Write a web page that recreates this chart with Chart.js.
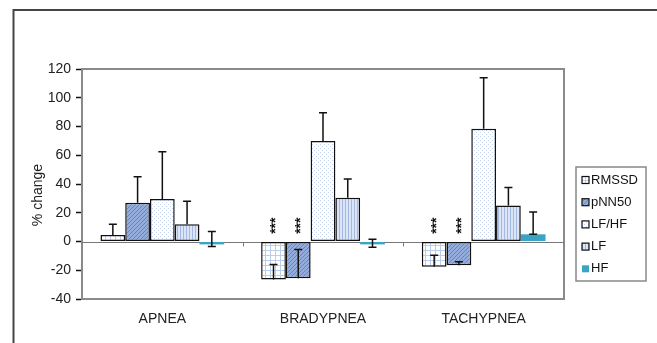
<!DOCTYPE html>
<html>
<head>
<meta charset="utf-8">
<script src="https://cdn.jsdelivr.net/npm/chart.js@4/dist/chart.umd.min.js"></script>
<style>
  html, body { margin: 0; padding: 0; background: #fff; }
  canvas { display: block; }
</style>
</head>
<body>
<canvas id="chart" width="657" height="343"></canvas>
<script>
// data
const categories = ["APNEA", "BRADYPNEA", "TACHYPNEA"];
const seriesNames = ["RMSSD", "pNN50", "LF/HF", "LF", "HF"];

const rmssd = [4.5, -26.5, -17.5];
const pnn50 = [27, -25.5, -16.5];
const lfhf = [29.5, 70, 78.5];
const lf = [12, 30.5, 25];
const hf = [-2, -2, 5];

// error bar lengths (plus side, minus side)
const rmssdErr = [7.5, 10.5, 8];
const pnn50Err = [18, 20, 2.5];
const lfhfErr = [33, 19.5, 35.5];
const lfErr = [16, 13, 12.5];
const hfErr = [9, 3.5, 15.5];
const hfErrMinus = [1.5, 2, 0];

// significance marks above zero line
const rmssdSig = ["", "***", "***"];
const pnn50Sig = ["", "***", "***"];

const yTicks = { min: -40, max: 120, step: 20 };

function makePattern(kind) {
  const c = document.createElement("canvas");
  const ctx = c.getContext("2d");
  if (kind === "grid") {
    c.width = 5; c.height = 5;
    ctx.fillStyle = "#ffffff"; ctx.fillRect(0, 0, 5, 5);
    ctx.fillStyle = "#b9cdef";
    ctx.fillRect(0, 0, 5, 1);
    ctx.fillRect(0, 0, 1, 5);
  } else if (kind === "diag") {
    c.width = 4; c.height = 4;
    ctx.fillStyle = "#94acdb"; ctx.fillRect(0, 0, 4, 4);
    ctx.fillStyle = "#6585c4";
    for (let i = 0; i < 4; i++) ctx.fillRect(i, 3 - i, 1, 1);
  } else if (kind === "dots") {
    c.width = 4; c.height = 4;
    ctx.fillStyle = "#ffffff"; ctx.fillRect(0, 0, 4, 4);
    ctx.fillStyle = "#c3d3f0";
    ctx.fillRect(0, 0, 1, 1);
    ctx.fillRect(2, 2, 1, 1);
  } else if (kind === "vert") {
    c.width = 3; c.height = 3;
    ctx.fillStyle = "#dbe5f6"; ctx.fillRect(0, 0, 3, 3);
    ctx.fillStyle = "#a3b9e3";
    ctx.fillRect(0, 0, 1, 3);
  }
  return ctx.createPattern(c, "repeat");
}

const fills = [makePattern("grid"), makePattern("diag"), makePattern("dots"), makePattern("vert"), "#3aa5c2"];
const values = [rmssd, pnn50, lfhf, lf, hf];
const errs = [rmssdErr, pnn50Err, lfhfErr, lfErr, hfErr];
const errsMinus = [null, null, null, null, hfErrMinus];
const sigs = [rmssdSig, pnn50Sig, null, null, null];

const datasets = seriesNames.map((name, i) => ({
  label: name,
  data: values[i],
  backgroundColor: fills[i],
  borderColor: "#111",
  borderWidth: i === 4 ? 0 : 1.5,
  borderSkipped: false,
  categoryPercentage: 0.77,
  barPercentage: 1.0
}));

const FONT = "'Liberation Sans', Arial, sans-serif";

const decorations = {
  id: "decorations",
  beforeDraw(chart) {
    const ctx = chart.ctx;
    ctx.save();
    // outer frame
    ctx.strokeStyle = "#444";
    ctx.lineWidth = 2;
    ctx.beginPath();
    ctx.moveTo(13.5, 343);
    ctx.lineTo(13.5, 10);
    ctx.lineTo(657, 10);
    ctx.stroke();
    // y title
    ctx.fillStyle = "#222";
    ctx.font = "14px " + FONT;
    ctx.translate(38, 195);
    ctx.rotate(-Math.PI / 2);
    ctx.textAlign = "center";
    ctx.textBaseline = "middle";
    ctx.fillText("% change", 0, 0);
    ctx.restore();
  },
  beforeDatasetsDraw(chart) {
    const { ctx, chartArea: a, scales } = chart;
    const y0 = Math.round(scales.y.getPixelForValue(0)) + 0.5;
    ctx.save();
    // plot frame
    ctx.strokeStyle = "#8a8a8a";
    ctx.lineWidth = 2;
    ctx.strokeRect(a.left, a.top, a.right - a.left, a.bottom - a.top);
    // zero line + category ticks
    ctx.strokeStyle = "#777";
    ctx.lineWidth = 1;
    ctx.beginPath();
    ctx.moveTo(a.left, y0);
    ctx.lineTo(a.right, y0);
    const w = (a.right - a.left) / categories.length;
    for (let k = 1; k < categories.length; k++) {
      const x = Math.round(a.left + w * k) + 0.5;
      ctx.moveTo(x, y0);
      ctx.lineTo(x, y0 + 4);
    }
    ctx.stroke();
    ctx.restore();
  },
  afterDatasetsDraw(chart) {
    const { ctx, scales } = chart;
    const ys = scales.y;
    ctx.save();
    ctx.strokeStyle = "#111";
    ctx.lineWidth = 1.5;
    values.forEach((vals, i) => {
      const meta = chart.getDatasetMeta(i);
      vals.forEach((v, j) => {
        const x = meta.data[j].x;
        const yv = ys.getPixelForValue(v);
        const yHi = ys.getPixelForValue(v + errs[i][j]);
        ctx.beginPath();
        ctx.moveTo(x, yv);
        ctx.lineTo(x, yHi);
        ctx.moveTo(x - 4, yHi);
        ctx.lineTo(x + 4, yHi);
        if (errsMinus[i]) {
          const yLo = ys.getPixelForValue(v - errsMinus[i][j]);
          ctx.moveTo(x, yv);
          ctx.lineTo(x, yLo);
          ctx.moveTo(x - 4, yLo);
          ctx.lineTo(x + 4, yLo);
        }
        ctx.stroke();
        if (sigs[i] && sigs[i][j]) {
          ctx.save();
          ctx.fillStyle = "#111";
          ctx.font = "bold 14px " + FONT;
          ctx.translate(x, ys.getPixelForValue(11));
          ctx.rotate(-Math.PI / 2);
          ctx.textAlign = "center";
          ctx.textBaseline = "middle";
          ctx.fillText(sigs[i][j], 0, 3);
          ctx.restore();
        }
      });
    });
    ctx.restore();
  },
  afterDraw(chart) {
    const ctx = chart.ctx;
    ctx.save();
    // legend box
    ctx.strokeStyle = "#888";
    ctx.lineWidth = 1.5;
    ctx.strokeRect(576, 167, 70, 114);
    ctx.font = "13px " + FONT;
    ctx.textBaseline = "middle";
    ctx.fillStyle = "#111";
    seriesNames.forEach((name, i) => {
      const cy = 180 + i * 22.2;
      ctx.fillStyle = fills[i];
      ctx.fillRect(582, cy - 3.5, 7, 7);
      if (i !== 4) {
        ctx.strokeStyle = "#111";
        ctx.lineWidth = 1.2;
        ctx.strokeRect(582, cy - 3.5, 7, 7);
      }
      ctx.fillStyle = "#111";
      ctx.fillText(name, 591, cy);
    });
    ctx.restore();
  }
};

new Chart(document.getElementById("chart"), {
  type: "bar",
  data: { labels: categories, datasets },
  options: {
    responsive: false,
    animation: false,
    devicePixelRatio: 1,
    layout: { padding: { left: 0, top: 69, right: 93, bottom: 14 } },
    plugins: {
      legend: { display: false },
      tooltip: { enabled: false }
    },
    scales: {
      x: {
        grid: { display: false, drawTicks: false },
        border: { display: false },
        ticks: { color: "#222", font: { family: FONT, size: 14 }, padding: 12, maxRotation: 0 },
        afterFit(scale) { scale.height = 30; }
      },
      y: {
        min: yTicks.min,
        max: yTicks.max,
        grid: { drawOnChartArea: false, drawTicks: true, tickLength: 6, color: "#111", tickWidth: 1.5 },
        border: { display: true, color: "#111", width: 1.5 },
        ticks: { stepSize: yTicks.step, color: "#222", font: { family: FONT, size: 14 }, padding: 5 },
        afterFit(scale) { scale.width = 82; }
      }
    }
  },
  plugins: [decorations]
});
</script>
</body>
</html>
